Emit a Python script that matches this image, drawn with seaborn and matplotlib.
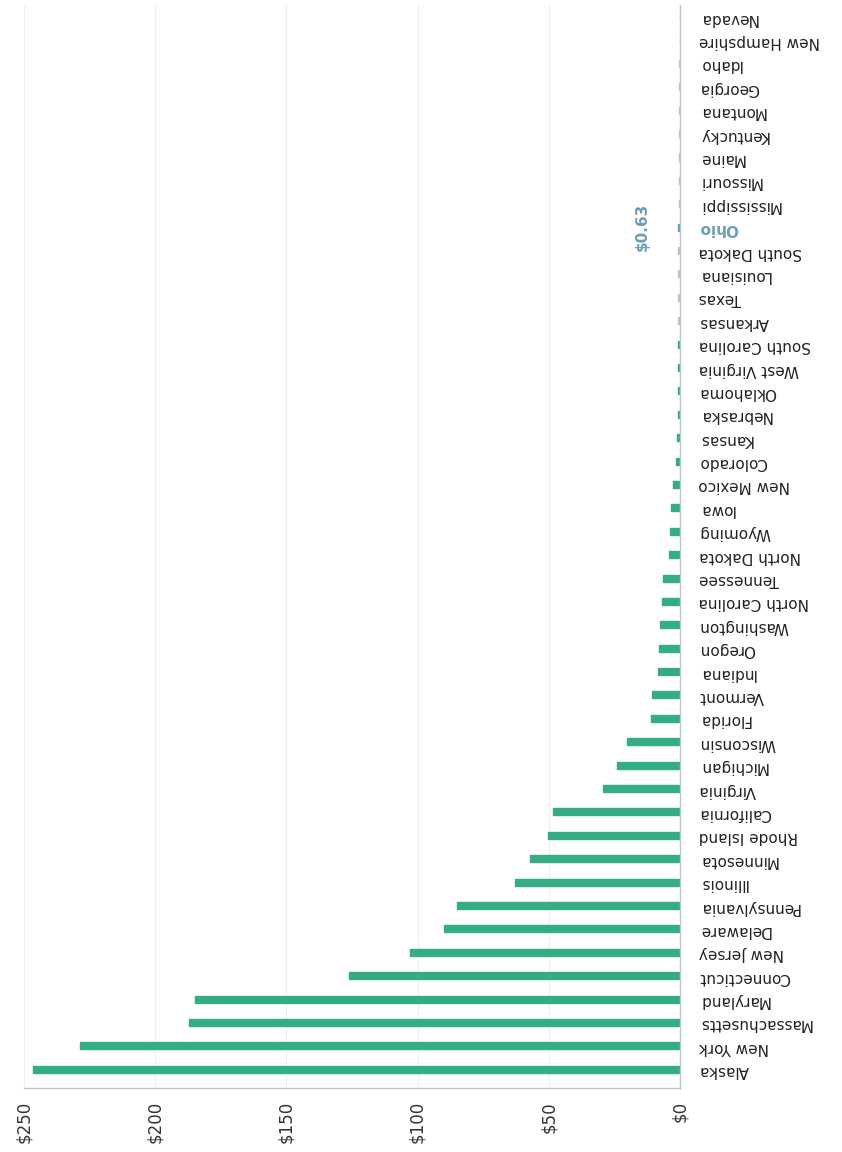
import matplotlib

matplotlib.use("Agg")
import matplotlib.pyplot as plt  # noqa: E402
import seaborn as sns  # noqa: E402

states = [
    "Alaska", "New York", "Massachusetts", "Maryland", "Connecticut",
    "New Jersey", "Delaware", "Pennsylvania", "Illinois", "Minnesota",
    "Rhode Island", "California", "Virginia", "Michigan", "Wisconsin",
    "Florida", "Vermont", "Indiana", "Oregon", "Washington",
    "North Carolina", "Tennessee", "North Dakota", "Wyoming", "Iowa",
    "New Mexico", "Colorado", "Kansas", "Nebraska", "Oklahoma",
    "West Virginia", "South Carolina", "Arkansas", "Texas", "Louisiana",
    "South Dakota", "Ohio", "Mississippi", "Missouri", "Maine",
    "Kentucky", "Montana", "Georgia", "Idaho", "New Hampshire", "Nevada",
]
values = [
    246.5, 228.5, 187, 185, 126,
    103, 90, 85, 63, 57,
    50.3, 48.4, 29.3, 23.9, 20.3,
    11.2, 10.6, 8.3, 8.0, 7.6,
    7.0, 6.6, 4.1, 3.8, 3.6,
    2.6, 1.5, 1.3, 0.9, 0.9,
    0.8, 0.8, 0.75, 0.72, 0.68,
    0.65, 0.63, 0.5, 0.45, 0.4,
    0.35, 0.3, 0.25, 0.2, 0.1, 0.05,
]
highlight = "Ohio"
highlight_label = "$0.63"
gray_from = "Arkansas"  # rows from here up are drawn gray
x_ticks = [0, 50, 100, 150, 200, 250]

GREEN = "#34ad86"
GRAY = "#c2c2c2"
BLUE = "#6a9fb5"
AXIS = "#c4c4c4"

sns.set_theme(style="white")
plt.rcParams["font.family"] = ["DejaVu Sans"]

cut = states.index(gray_from)
palette = {}
for i, s in enumerate(states):
    if s == highlight:
        palette[s] = BLUE
    elif i >= cut:
        palette[s] = GRAY
    else:
        palette[s] = GREEN

fig = plt.figure(figsize=(8.42, 11.52), dpi=100)
ax = fig.add_axes([0.0285, 0.0556, 0.8076 - 0.0285, 0.9957 - 0.0556])

sns.barplot(x=values, y=states, hue=states, palette=palette, order=states,
            orient="h", width=0.3, saturation=1, legend=False, ax=ax)
# thin same-colour outline so the near-zero bars still show as small marks
for bar in ax.patches:
    bar.set_edgecolor(bar.get_facecolor())
    bar.set_linewidth(1.0)

# the whole chart is shown rotated by 180 degrees
ax.set_xlim(250, 0)
ax.set_ylim(-0.8, len(states) - 0.5)
ax.set_xticks(x_ticks)
ax.set_xticklabels([f"${t}" for t in x_ticks], rotation=90, fontsize=12, color="#333333")
ax.yaxis.tick_right()
ax.tick_params(axis="y", length=0, pad=13.5, labelsize=11, labelcolor="#222222")
ax.tick_params(axis="x", length=3.5, color=AXIS, width=0.8, pad=6)
for lab in ax.get_yticklabels():
    lab.set_rotation(180)
    if lab.get_text() == highlight:
        lab.set_color(BLUE)
        lab.set_fontweight("bold")
ax.set_xlabel("")
ax.set_ylabel("")

ax.grid(axis="x", color="#efefef", linewidth=0.8)
ax.set_axisbelow(True)
for side in ["left", "top"]:
    ax.spines[side].set_visible(False)
for side in ["right", "bottom"]:
    ax.spines[side].set_color(AXIS)
    ax.spines[side].set_linewidth(1.0)

hi = states.index(highlight)
ax.annotate(highlight_label, (values[hi], hi), xytext=(-26, 0),
            textcoords="offset points", ha="center", va="center",
            rotation=90, fontsize=11, fontweight="bold", color=BLUE)

fig.savefig("out.png", dpi=100)
